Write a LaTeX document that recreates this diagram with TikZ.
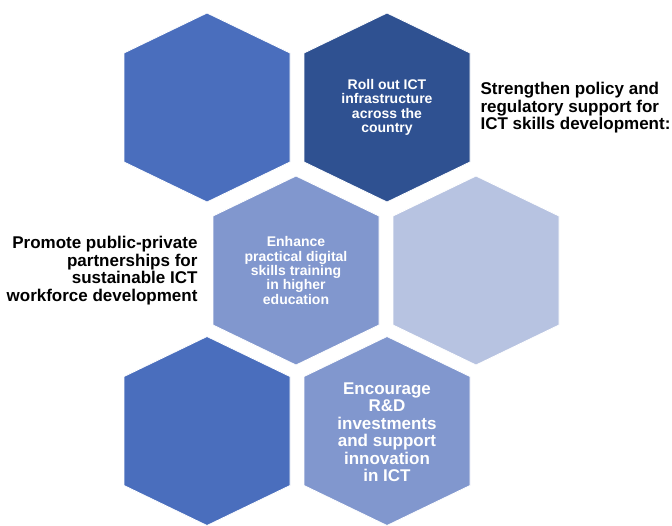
\documentclass[tikz,border=0pt]{standalone}
\usepackage{fontspec}
\setmainfont{Liberation Sans}
\usepackage{tikz}
\usepackage{xcolor}
\usetikzlibrary{positioning}

\definecolor{hexblue}{HTML}{4A6EBD}
\definecolor{hexdark}{HTML}{2F5191}
\definecolor{hexmid}{HTML}{8197CE}
\definecolor{hexlight}{HTML}{B7C3E1}

\begin{document}
\begin{tikzpicture}[x=1pt,y=-1pt,
		hextxt/.style={text=white,align=center,font=\bfseries\fontsize{14}{14.4}\selectfont},
		bigtxt/.style={align=center,font=\bfseries\fontsize{17}{17.5}\selectfont},
		sidetxt/.style={font=\bfseries\fontsize{17}{17.5}\selectfont}]
				\useasboundingbox (0,0) rectangle (672,525);
				% the six hexagons
				\foreach \cx/\cy/\col in {207/107.5/hexblue, 387/107.5/hexdark, 296/270.5/hexmid, 476/270.5/hexlight, 207/431/hexblue, 387/431/hexmid}
					\filldraw[fill=\col, draw=white, line width=0.8pt] (\cx,\cy) ++(0,-94.5) -- ++(83,40) -- ++(0,109) -- ++(-83,40) -- ++(-83,-40) -- ++(0,-109) -- cycle;
				\node[hextxt] (roll) at (387,107.5) {Roll out ICT\\infrastructure\\across the\\country};
				\node[hextxt] (enhance) at (296,270.5) {Enhance\\practical digital\\skills training\\in higher\\education};
				\node[bigtxt, text=white] (encourage) at (387,432) {Encourage\\R\&D\\investments\\and support\\innovation\\in ICT};
	%			side labels
				\node[sidetxt, align=left, anchor=west] (policy) at (477,108) {Strengthen policy and\\regulatory support for\\ICT skills development:};
				\node[sidetxt, align=right, anchor=east] (ppp) at (201,270.5) {Promote public-private\\partnerships for\\sustainable ICT\\workforce development};
			\end{tikzpicture}
\end{document}
